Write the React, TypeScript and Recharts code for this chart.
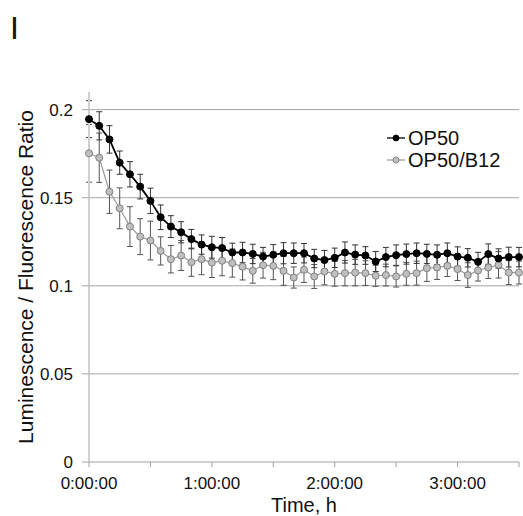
import { LineChart, Line, XAxis, YAxis, CartesianGrid, ErrorBar } from "recharts";

// minutes since start, one reading every 5 min
const minutes = [
  0, 5, 10, 15, 20, 25, 30, 35, 40, 45, 50, 55, 60, 65, 70, 75, 80, 85, 90, 95, 100, 105,
  110, 115, 120, 125, 130, 135, 140, 145, 150, 155, 160, 165, 170, 175, 180, 185, 190, 195,
  200, 205, 210,
];

const op50 = [
  0.1946, 0.1908, 0.1831, 0.1699, 0.1633, 0.1563, 0.1482, 0.1389, 0.1336, 0.1304, 0.1265,
  0.1234, 0.1219, 0.1214, 0.1189, 0.1189, 0.1181, 0.1166, 0.1176, 0.1185, 0.1185, 0.1185,
  0.1155, 0.1146, 0.1159, 0.1189, 0.1177, 0.1172, 0.1138, 0.1163, 0.1174, 0.118, 0.1185,
  0.1181, 0.1176, 0.1185, 0.1166, 0.1159, 0.1136, 0.118, 0.1155, 0.1163, 0.1163,
];
const op50Err = [
  0.0105, 0.008, 0.0078, 0.0066, 0.0072, 0.007, 0.0072, 0.007, 0.0062, 0.006, 0.0055,
  0.0055, 0.0062, 0.006, 0.0053, 0.0058, 0.0055, 0.0052, 0.0058, 0.006, 0.0058, 0.0055,
  0.0052, 0.0055, 0.0055, 0.006, 0.0055, 0.005, 0.0057, 0.0055, 0.0058, 0.0057, 0.0058,
  0.0055, 0.0056, 0.0058, 0.0055, 0.0052, 0.0054, 0.0058, 0.0055, 0.0056, 0.0055,
];

const op50b12 = [
  0.1752, 0.1727, 0.1534, 0.144, 0.1336, 0.1279, 0.1257, 0.1198, 0.1151, 0.1172, 0.1134,
  0.1151, 0.1132, 0.1142, 0.1129, 0.1108, 0.1085, 0.1117, 0.1113, 0.1085, 0.1047, 0.1091,
  0.1053, 0.1081, 0.1068, 0.1072, 0.1075, 0.1072, 0.1057, 0.1061, 0.1053, 0.1068, 0.1072,
  0.11, 0.1104, 0.1113, 0.1095, 0.1061, 0.1087, 0.1104, 0.1119, 0.1075, 0.1075,
];
const op50b12Err = [
  0.0164, 0.014, 0.0123, 0.0116, 0.0113, 0.0102, 0.011, 0.008, 0.0078, 0.0085, 0.008,
  0.0088, 0.0085, 0.0085, 0.008, 0.0075, 0.007, 0.0073, 0.0078, 0.0082, 0.006, 0.0072,
  0.0068, 0.0075, 0.007, 0.0072, 0.0075, 0.007, 0.006, 0.0062, 0.006, 0.0065, 0.0068,
  0.0075, 0.0068, 0.006, 0.0065, 0.007, 0.006, 0.0062, 0.0075, 0.0068, 0.0065,
];

const xTicks = [0, 30, 60, 90, 120, 150, 180, 210];
const yTicks = [0, 0.05, 0.1, 0.15, 0.2];

const FONT = "'Liberation Sans', Arial, sans-serif";

const data = minutes.map((m, i) => ({
  t: m,
  op50: op50[i],
  op50Err: op50Err[i],
  b12: op50b12[i],
  b12Err: op50b12Err[i],
}));

const fmtTime = (m: number) => (m % 60 === 0 ? `${m / 60}:00:00` : "");

// legend kept outside the chart so it doesn't shrink the plot area
function LegendBox() {
  const rows = [
    { name: "OP50", line: "#000", fill: "#000", stroke: "#000" },
    { name: "OP50/B12", line: "#999", fill: "#bfbfbf", stroke: "#7f7f7f" },
  ];
  return (
    <div
      style={{
        position: "absolute",
        left: 386,
        top: 127,
        fontFamily: FONT,
        fontSize: 20,
        color: "#111",
        zIndex: 2,
      }}
    >
      {rows.map((r) => (
        <div key={r.name} style={{ display: "flex", alignItems: "center", height: 22 }}>
          <svg width={20} height={10} style={{ marginRight: 2 }}>
            <line x1={1} y1={5} x2={19} y2={5} stroke={r.line} strokeWidth={1.3} />
            <circle cx={10} cy={5} r={3} fill={r.fill} stroke={r.stroke} strokeWidth={0.8} />
          </svg>
          <span>{r.name}</span>
        </div>
      ))}
    </div>
  );
}

export default function App() {
  return (
    <div style={{ position: "absolute", left: 0, top: 0, width: 523, height: 516, background: "#fff" }}>
      <div
        style={{
          position: "absolute",
          left: 10,
          top: 8,
          fontFamily: FONT,
          fontSize: 32,
          lineHeight: "40px",
          color: "#111",
        }}
      >
        I
      </div>
      <LegendBox />
      <LineChart width={523} height={516} data={data} margin={{ top: 92, right: 4, left: 0, bottom: 0 }}>
        <CartesianGrid vertical={false} stroke="#a6a6a6" horizontalValues={[0.05, 0.1, 0.15, 0.2]} />
        <XAxis
          dataKey="t"
          type="number"
          domain={[0, 210]}
          ticks={xTicks}
          tickFormatter={fmtTime}
          height={54}
          interval={0}
          axisLine={{ stroke: "#a0a0a0" }}
          tickLine={{ stroke: "#a0a0a0" }}
          tickSize={5}
          tickMargin={10}
          tick={{ fill: "#111", fontSize: 17, fontFamily: FONT }}
          label={{
            content: ({ viewBox }: any) => (
              <text
                x={viewBox.x + viewBox.width / 2}
                y={viewBox.y + 50}
                textAnchor="middle"
                fontSize={20}
                fontFamily={FONT}
                fill="#111"
              >
                Time, h
              </text>
            ),
          }}
        />
        <YAxis
          type="number"
          domain={[0, 0.21]}
          ticks={yTicks}
          tickFormatter={(v: number) => String(v)}
          width={89}
          interval={0}
          axisLine={{ stroke: "#d0d0d0", strokeWidth: 2 }}
          tickLine={{ stroke: "#a6a6a6" }}
          tickSize={7}
          tickMargin={9}
          tick={{ fill: "#111", fontSize: 17, fontFamily: FONT }}
          label={{
            content: ({ viewBox }: any) => {
              const cx = viewBox.x + 25;
              const cy = viewBox.y + viewBox.height / 2;
              return (
                <text
                  x={cx}
                  y={cy}
                  transform={`rotate(-90 ${cx} ${cy})`}
                  textAnchor="middle"
                  dominantBaseline="central"
                  fontSize={21}
                  fontFamily={FONT}
                  fill="#111"
                >
                  Luminescence / Fluorescence Ratio
                </text>
              );
            },
          }}
        />
        <Line
          dataKey="b12"
          name="OP50/B12"
          stroke="#9a9a9a"
          strokeWidth={1.2}
          dot={{ r: 3.5, fill: "#bfbfbf", stroke: "#808080", strokeWidth: 1 }}
          isAnimationActive={false}
        >
          <ErrorBar dataKey="b12Err" direction="y" width={3} stroke="#555" strokeWidth={1} />
        </Line>
        <Line
          dataKey="op50"
          name="OP50"
          stroke="#000"
          strokeWidth={1.8}
          dot={{ r: 3.5, fill: "#000", stroke: "#000", strokeWidth: 1 }}
          isAnimationActive={false}
        >
          <ErrorBar dataKey="op50Err" direction="y" width={3} stroke="#333" strokeWidth={1} />
        </Line>
      </LineChart>
    </div>
  );
}
